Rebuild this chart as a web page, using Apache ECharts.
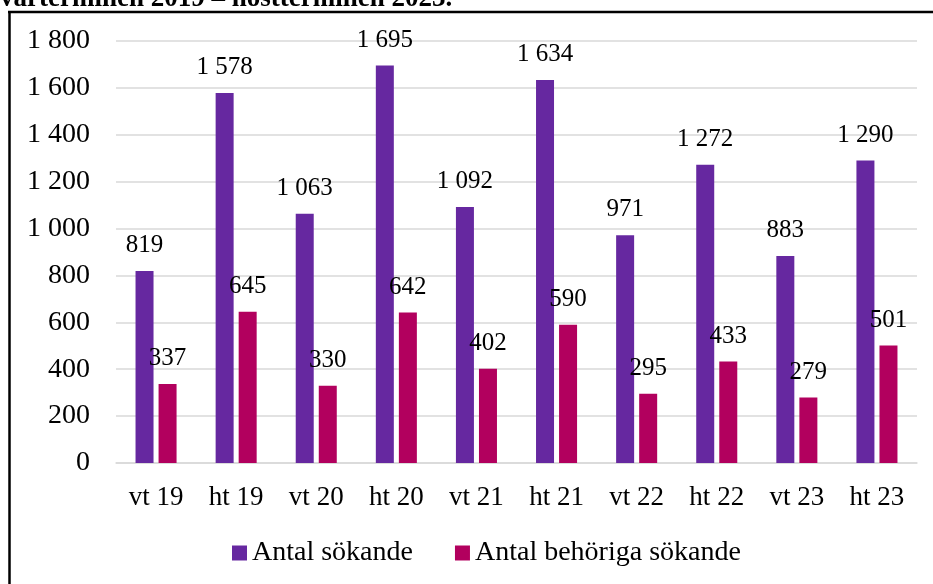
<!DOCTYPE html>
<html><head><meta charset="utf-8">
<script src="https://cdn.jsdelivr.net/npm/echarts@6/dist/echarts.min.js"></script>
<style>html,body{margin:0;padding:0;background:#fff}#c{width:933px;height:584px}</style>
</head><body><div id="c"></div>
<script>
const categories = ['vt 19','ht 19','vt 20','ht 20','vt 21','ht 21','vt 22','ht 22','vt 23','ht 23'];
const antalSokande = [819,1578,1063,1695,1092,1634,971,1272,883,1290];
const antalBehoriga = [337,645,330,642,402,590,295,433,279,501];
const yTicks = {min:0, max:1800, interval:200};
const seriesNames = ['Antal sökande','Antal behöriga sökande'];
const titleText = 'vårterminen 2019 – höstterminen 2023.';

const FONT = '"Liberation Serif", serif';
const fmt = v => String(v).replace(/\B(?=(\d{3})+(?!\d))/g, ' ');
const chart = echarts.init(document.getElementById('c'), null, {renderer:'canvas'});
chart.setOption({
  animation:false,
  backgroundColor:'#fff',
  graphic:[
    {type:'text', x:0, y:13, style:{text:titleText, font:'bold 27px "Liberation Serif", serif', fill:'#000', verticalAlign:'bottom'}},
    {type:'line', shape:{x1:8,y1:12,x2:933,y2:12}, style:{stroke:'#000', lineWidth:2.5}},
    {type:'line', shape:{x1:9.5,y1:11,x2:9.5,y2:584}, style:{stroke:'#000', lineWidth:2.5}}
  ],
  grid:{left:116, right:16, top:41, bottom:121},
  legend:{
    data:seriesNames, top:534, left:227, itemWidth:15, itemHeight:15, itemGap:42, icon:'rect',
    textStyle:{fontFamily:FONT, fontSize:28, color:'#000'}
  },
  xAxis:{
    type:'category', data:categories,
    axisLine:{lineStyle:{color:'#d9d9d9', width:1.5}}, axisTick:{show:false},
    axisLabel:{fontFamily:FONT, fontSize:27, color:'#000', margin:21}
  },
  yAxis:{
    type:'value', min:yTicks.min, max:yTicks.max, interval:yTicks.interval,
    axisLine:{show:false}, axisTick:{show:false},
    splitLine:{lineStyle:{color:'#d9d9d9', width:1.5}},
    axisLabel:{fontFamily:FONT, fontSize:28, color:'#000', margin:26, formatter:fmt}
  },
  series:[
    {name:seriesNames[0], type:'bar', data:antalSokande, barWidth:18, barGap:'28%',
     itemStyle:{color:'#6628A0'},
     label:{show:true, position:'top', distance:13, fontFamily:FONT, fontSize:25, color:'#000', formatter:p=>fmt(p.value)}},
    {name:seriesNames[1], type:'bar', data:antalBehoriga, barWidth:18,
     itemStyle:{color:'#B2005E'},
     label:{show:true, position:'top', distance:13, fontFamily:FONT, fontSize:25, color:'#000', formatter:p=>fmt(p.value)}}
  ]
});
</script></body></html>
